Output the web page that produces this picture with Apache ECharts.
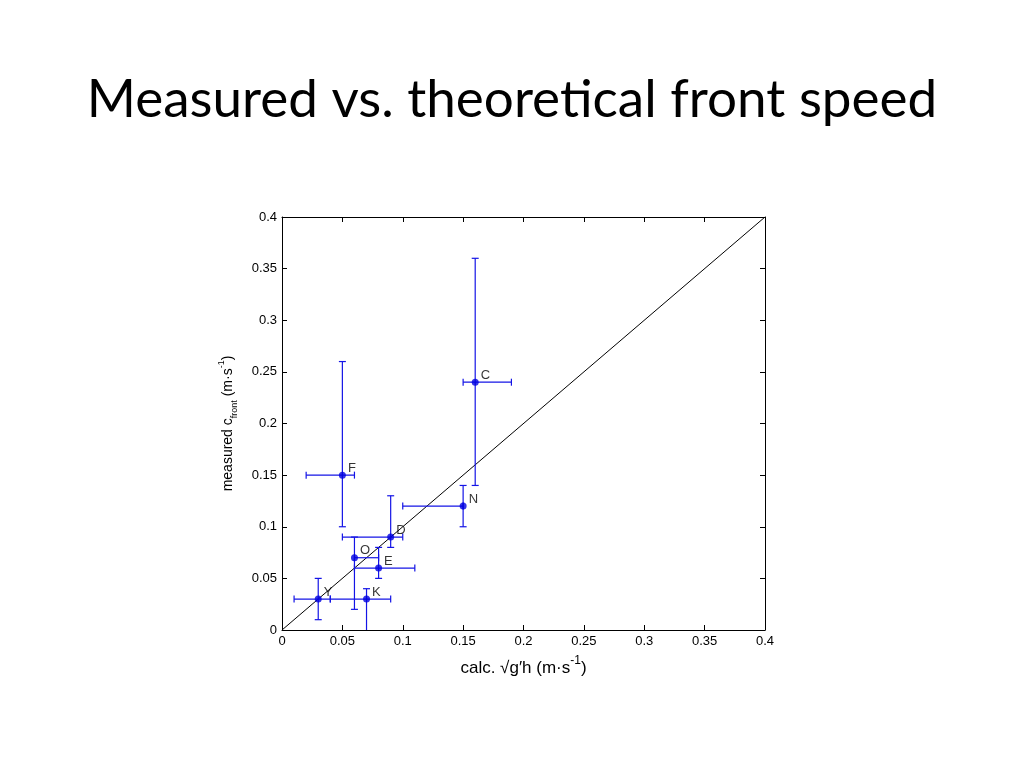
<!DOCTYPE html>
<html>
<head>
<meta charset="utf-8">
<script src="https://cdn.jsdelivr.net/npm/echarts@6/dist/echarts.min.js"></script>
<style>
html,body{margin:0;padding:0;background:#fff;}
#chart{width:1024px;height:768px;}
</style>
</head>
<body>
<div id="chart"></div>
<script>
const pointLabels = ['Y','K','O','E','D','F','N','C'];
const xVals  = [0.03, 0.07, 0.06, 0.08, 0.09, 0.05, 0.15, 0.16];
const xLow   = [0.01, 0.04, 0.06, 0.06, 0.05, 0.02, 0.10, 0.15];
const xHigh  = [0.04, 0.09, 0.08, 0.11, 0.10, 0.06, 0.15, 0.19];
const yVals  = [0.03, 0.03, 0.07, 0.06, 0.09, 0.15, 0.12, 0.24];
const yLow   = [0.01, -0.01, 0.02, 0.05, 0.08, 0.10, 0.10, 0.14];
const yHigh  = [0.05, 0.04, 0.09, 0.08, 0.13, 0.26, 0.14, 0.36];
const refLine = [[0, 0], [0.4, 0.4]];
const tickValues = [0, 0.05, 0.1, 0.15, 0.2, 0.25, 0.3, 0.35, 0.4];

const blue = '#1414e6';
const errData = pointLabels.map((n, i) => [xVals[i], yVals[i], xLow[i], xHigh[i], yLow[i], yHigh[i]]);
const ptData = pointLabels.map((n, i) => ({value: [xVals[i], yVals[i]], name: n}));

const fmt = v => String(Math.round(v * 100) / 100);
const axisCommon = {
  min: 0, max: 0.4, interval: 0.05,
  splitLine: {show: false},
  axisLine: {show: true, onZero: false, lineStyle: {color: '#000', width: 1}},
  axisTick: {show: true, inside: true, length: 5, lineStyle: {color: '#000'}},
};

const chart = echarts.init(document.getElementById('chart'));
chart.setOption({
  animation: false,
  backgroundColor: '#fff',
  title: {
    text: 'Measured vs. theoretical front speed',
    left: 'center', top: 68,
    textStyle: {fontFamily: 'Lato', fontWeight: 'normal', fontSize: 53, color: '#000'}
  },
  grid: {left: 282, right: 259, top: 217, bottom: 138},
  xAxis: [
    Object.assign({}, axisCommon, {
      type: 'value', position: 'bottom',
      axisLabel: {formatter: fmt, color: '#000', fontFamily: 'Liberation Sans', fontSize: 13, margin: 5},
      name: '{a|calc. √g′h (m·s}{sup|-1}{a|)}',
      nameLocation: 'middle', nameGap: 25,
      nameTextStyle: {rich: {
        a: {fontFamily: 'Liberation Sans', fontSize: 17, color: '#000', verticalAlign: 'bottom', lineHeight: 22},
        sup: {fontFamily: 'Liberation Sans', fontSize: 12, color: '#000', verticalAlign: 'top', lineHeight: 22}
      }}
    }),
    Object.assign({}, axisCommon, {
      type: 'value', position: 'top',
      axisLabel: {show: false}
    })
  ],
  yAxis: [
    Object.assign({}, axisCommon, {
      type: 'value', position: 'left',
      axisLabel: {formatter: fmt, color: '#000', fontFamily: 'Liberation Sans', fontSize: 13, margin: 5},
      name: '{a|measured c}{sub|front}{a| (m·s}{sup|-1}{a|)}',
      nameLocation: 'middle', nameGap: 43, nameRotate: 90,
      nameTextStyle: {rich: {
        a: {fontFamily: 'Liberation Sans', fontSize: 14, color: '#000', verticalAlign: 'middle', lineHeight: 22},
        sub: {fontFamily: 'Liberation Sans', fontSize: 9, color: '#000', verticalAlign: 'bottom', lineHeight: 22},
        sup: {fontFamily: 'Liberation Sans', fontSize: 9, color: '#000', verticalAlign: 'top', lineHeight: 22}
      }}
    }),
    Object.assign({}, axisCommon, {
      type: 'value', position: 'right',
      axisLabel: {show: false}
    })
  ],
  series: [
    {
      type: 'line', data: refLine, symbol: 'none', silent: true,
      lineStyle: {color: '#000', width: 1}, z: 1
    },
    {
      type: 'custom', data: errData, clip: true, z: 2,
      encode: {x: 0, y: 1},
      renderItem: function (params, api) {
        const c = api.coord([api.value(0), api.value(1)]);
        const xl = api.coord([api.value(2), api.value(1)]);
        const xh = api.coord([api.value(3), api.value(1)]);
        const yl = api.coord([api.value(0), api.value(4)]);
        const yh = api.coord([api.value(0), api.value(5)]);
        const cap = 3.5;
        const st = {stroke: blue, lineWidth: 1.2, fill: 'none'};
        const ln = (x1, y1, x2, y2) => ({type: 'line', shape: {x1, y1, x2, y2}, style: st});
        return {type: 'group', children: [
          ln(xl[0], c[1], xh[0], c[1]),
          ln(xl[0], c[1] - cap, xl[0], c[1] + cap),
          ln(xh[0], c[1] - cap, xh[0], c[1] + cap),
          ln(c[0], yl[1], c[0], yh[1]),
          ln(c[0] - cap, yl[1], c[0] + cap, yl[1]),
          ln(c[0] - cap, yh[1], c[0] + cap, yh[1])
        ]};
      }
    },
    {
      type: 'scatter', data: ptData, symbol: 'circle', symbolSize: 7, z: 3,
      itemStyle: {color: '#0000e0'},
      label: {
        show: true, formatter: p => p.name, position: 'right', distance: 2, offset: [0, -7],
        color: '#000', fontFamily: 'Liberation Sans', fontSize: 13
      }
    }
  ]
});
</script>
</body>
</html>
